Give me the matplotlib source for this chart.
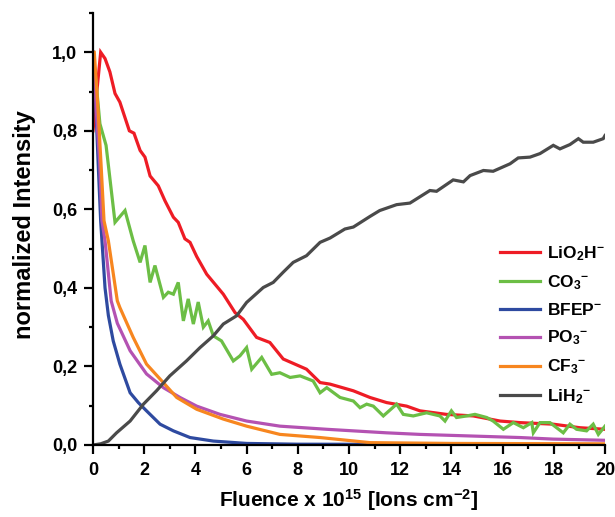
import matplotlib
matplotlib.use("Agg")
import matplotlib.pyplot as plt
from matplotlib.ticker import MultipleLocator, FuncFormatter

plt.rcParams['font.family'] = ['Liberation Sans', 'DejaVu Sans']
plt.rcParams['font.weight'] = 'bold'
plt.rcParams['mathtext.fontset'] = 'custom'
plt.rcParams['mathtext.rm'] = 'Liberation Sans:bold'
plt.rcParams['mathtext.bf'] = 'Liberation Sans:bold'
plt.rcParams['mathtext.it'] = 'Liberation Sans:bold'
plt.rcParams['mathtext.default'] = 'bf'

# ---- data ----
lio2h_x = [0, 0.30, 0.47, 0.66, 0.86, 1.05, 1.42, 1.60, 1.84, 2.03, 2.23, 2.55, 2.81, 3.14, 3.33,
           3.59, 3.79, 4.05, 4.44, 5.09, 5.55, 5.87, 6.39, 6.91, 7.43, 8.34, 8.87, 9.26, 10.17,
           10.82, 11.47, 12.25, 12.77, 13.8, 14.86, 15.9, 16.68, 17.98, 19.02, 20]
lio2h_y = [0.80, 1.00, 0.984, 0.95, 0.895, 0.873, 0.80, 0.794, 0.75, 0.733, 0.685, 0.66, 0.622, 0.58,
           0.567, 0.525, 0.516, 0.480, 0.435, 0.384, 0.337, 0.32, 0.274, 0.261, 0.219, 0.193, 0.159,
           0.155, 0.138, 0.121, 0.108, 0.099, 0.087, 0.078, 0.074, 0.061, 0.057, 0.053, 0.044, 0.04]

co3_x = [0, 0.14, 0.27, 0.51, 0.86, 1.25, 1.57, 1.84, 2.03, 2.23, 2.42, 2.75, 2.94, 3.14, 3.33, 3.53,
         3.72, 3.92, 4.11, 4.31, 4.5, 4.7, 5.02, 5.48, 5.74, 6.0, 6.2, 6.59, 6.98, 7.3, 7.7, 8.09,
         8.6, 8.87, 9.13, 9.65, 10.17, 10.43, 10.69, 10.95, 11.34, 11.86, 12.12, 12.51, 13.03,
         13.55, 13.75, 14.0, 14.2, 14.6, 14.92, 15.38, 15.63, 16.03, 16.42, 16.81, 17.14, 17.2,
         17.46, 17.85, 18.37, 18.63, 18.89, 19.28, 19.54, 19.74, 20]
co3_y = [1.0, 0.91, 0.818, 0.763, 0.567, 0.597, 0.52, 0.465, 0.508, 0.414, 0.457, 0.376, 0.389, 0.384,
         0.414, 0.316, 0.372, 0.308, 0.364, 0.300, 0.316, 0.278, 0.265, 0.214, 0.227, 0.248, 0.193,
         0.223, 0.18, 0.184, 0.172, 0.176, 0.163, 0.133, 0.146, 0.121, 0.112, 0.095, 0.104, 0.099,
         0.074, 0.104, 0.078, 0.074, 0.082, 0.074, 0.061, 0.087, 0.07, 0.074, 0.078, 0.07, 0.061,
         0.04, 0.057, 0.044, 0.057, 0.031, 0.057, 0.057, 0.031, 0.053, 0.04, 0.036, 0.053, 0.027, 0.048]

bfep_x = [0, 0.1, 0.2, 0.3, 0.47, 0.6, 0.79, 1.05, 1.45, 1.77, 2.09, 2.62, 3.14, 3.79, 4.7, 6.0, 8.0, 20]
bfep_y = [1.0, 0.88, 0.72, 0.57, 0.40, 0.33, 0.265, 0.206, 0.133, 0.108, 0.087, 0.053, 0.036, 0.019,
          0.01, 0.004, 0.002, 0.001]

po3_x = [0, 0.12, 0.26, 0.35, 0.47, 0.71, 0.95, 1.45, 2.09, 2.75, 3.4, 4.05, 4.96, 6.0, 7.3, 9.13,
         10.17, 11.47, 12.77, 14.73, 16.68, 17.98, 20]
po3_y = [1.0, 0.86, 0.72, 0.571, 0.52, 0.367, 0.31, 0.240, 0.181, 0.146, 0.121, 0.099, 0.078, 0.061,
         0.048, 0.04, 0.036, 0.031, 0.027, 0.023, 0.019, 0.015, 0.012]

cf3_x = [0, 0.05, 0.2, 0.31, 0.43, 0.6, 0.95, 1.05, 1.57, 2.09, 2.62, 3.27, 4.05, 5.09, 6.0, 7.3,
         8.87, 10.82, 14.0, 20]
cf3_y = [1.0, 1.0, 0.85, 0.72, 0.571, 0.52, 0.367, 0.35, 0.274, 0.206, 0.168, 0.121, 0.091, 0.066,
         0.048, 0.027, 0.019, 0.006, 0.004, 0.003]

lih2_x = [0, 0.3, 0.6, 0.92, 1.45, 1.97, 2.48, 3.0, 3.65, 4.18, 4.7, 5.09, 5.61, 6.0, 6.65, 7.04,
          7.43, 7.82, 8.34, 8.87, 9.26, 9.84, 10.17, 10.82, 11.2, 11.86, 12.38, 13.16, 13.42, 14.07,
          14.47, 14.73, 15.25, 15.63, 16.29, 16.61, 17.07, 17.46, 17.98, 18.24, 18.63, 18.96,
          19.15, 19.54, 19.93, 20]
lih2_y = [0.0, 0.003, 0.01, 0.031, 0.061, 0.104, 0.138, 0.176, 0.214, 0.248, 0.278, 0.308, 0.329,
          0.363, 0.401, 0.414, 0.44, 0.465, 0.482, 0.516, 0.527, 0.55, 0.555, 0.582, 0.597, 0.612,
          0.616, 0.648, 0.646, 0.675, 0.67, 0.686, 0.699, 0.697, 0.716, 0.731, 0.733, 0.742, 0.763,
          0.754, 0.765, 0.78, 0.771, 0.771, 0.78, 0.788]

series = [
    (lio2h_x, lio2h_y, '#ee1c25', r'LiO$_2$H$^{-}$'),
    (co3_x, co3_y, '#6cbe45', r'CO$_3$$^{-}$'),
    (bfep_x, bfep_y, '#2e4aa0', r'BFEP$^{-}$'),
    (po3_x, po3_y, '#b452b2', r'PO$_3$$^{-}$'),
    (cf3_x, cf3_y, '#f7861f', r'CF$_3$$^{-}$'),
    (lih2_x, lih2_y, '#4a4a4a', r'LiH$_2$$^{-}$'),
]

fig = plt.figure(figsize=(6.15, 5.17), dpi=100)
ax = fig.add_axes([93/615, 1-445/517, (605-93)/615, (445-13)/517])

for x, y, c, lab in series:
    ax.plot(x, y, color=c, lw=2.3, label=lab, solid_joinstyle='miter')

ax.set_xlim(0, 20)
ax.set_ylim(0, 1.1)
ax.xaxis.set_major_locator(MultipleLocator(2))
ax.xaxis.set_minor_locator(MultipleLocator(1))
ax.yaxis.set_major_locator(MultipleLocator(0.2))
ax.yaxis.set_minor_locator(MultipleLocator(0.1))
ax.yaxis.set_major_formatter(FuncFormatter(lambda v, p: f"{v:.1f}".replace('.', ',')))

for s in ['top', 'right']:
    ax.spines[s].set_visible(False)
for s in ['left', 'bottom']:
    ax.spines[s].set_linewidth(1.6)
ax.tick_params(which='major', length=6.5, width=1.6, labelsize=13, direction='out')
ax.tick_params(axis='x', which='major', pad=6)
ax.tick_params(axis='y', which='major', pad=5)
ax.tick_params(which='minor', length=3, width=1.6, direction='out')
for lbl in ax.get_xticklabels() + ax.get_yticklabels():
    lbl.set_fontweight('bold')

ax.set_xlabel(r'Fluence x 10$^{15}$ [Ions cm$^{-2}$]', fontsize=15, fontweight='bold')
ax.set_ylabel('normalized Intensity', fontsize=17, fontweight='bold')
ax.xaxis.label.set_va('center')
ax.xaxis.set_label_coords((349 - 93) / 512, (445 - 500) / 432)
ax.yaxis.label.set_va('center')
ax.yaxis.label.set_ha('center')
ax.yaxis.set_label_coords((25 - 93) / 512, (445 - 225) / 432)

leg = ax.legend(loc='upper left', bbox_to_anchor=(500/615, 1-244/517), bbox_transform=fig.transFigure,
                frameon=False, fontsize=12.5, handlelength=2.3, handletextpad=0.4, labelspacing=0.6,
                borderpad=0, borderaxespad=0)
for t in leg.get_texts():
    t.set_fontweight('bold')

fig.savefig('out.png', dpi=100)
